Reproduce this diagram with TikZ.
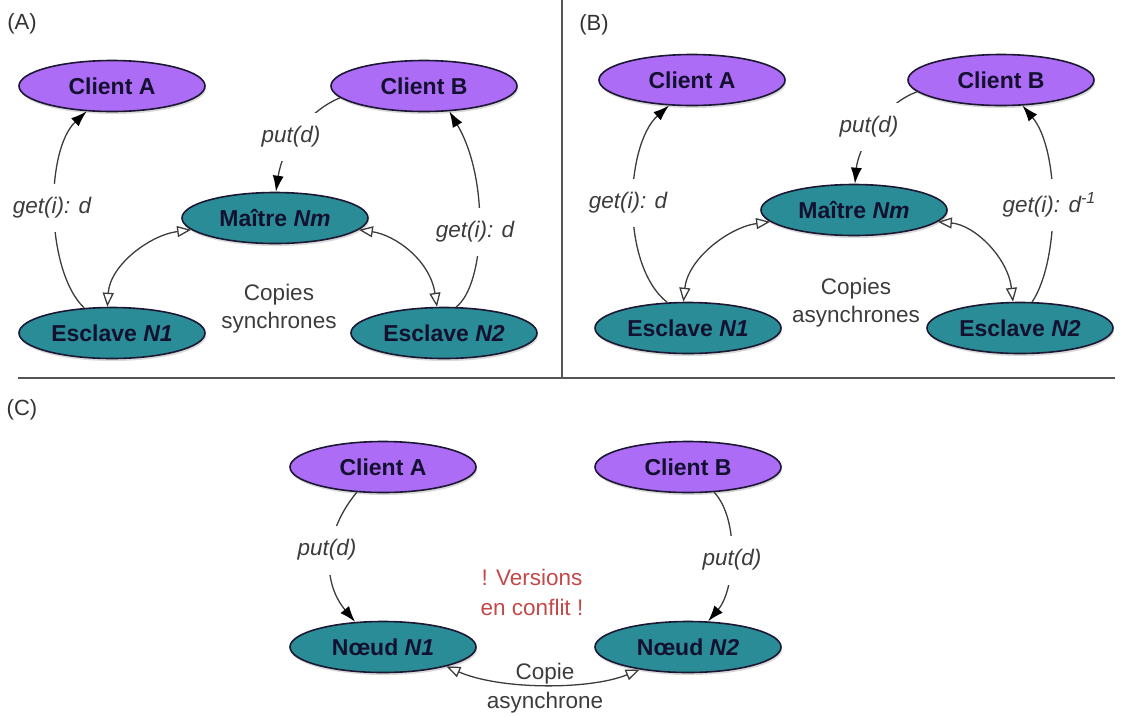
\documentclass[tikz,border=0pt]{standalone}
\usepackage{fontspec}
\setmainfont{Liberation Sans}
\usetikzlibrary{shapes.geometric,arrows.meta,shadows}
\definecolor{cpurple}{RGB}{172,108,245}
\definecolor{cteal}{RGB}{42,140,150}
\definecolor{cedge}{RGB}{28,24,52}
\definecolor{ctext}{RGB}{20,16,48}
\definecolor{clabel}{RGB}{60,60,60}
\definecolor{cred}{RGB}{196,72,72}
\definecolor{crule}{RGB}{85,85,85}
\begin{document}
\begin{tikzpicture}[x=1pt,y=-1pt,
  ell/.style={ellipse, draw=cedge, line width=1.6pt, minimum width=186pt, minimum height=51pt, inner sep=0pt,
    font=\fontsize{23}{26}\selectfont\bfseries, text=ctext,
    drop shadow={opacity=0.3, shadow xshift=1pt, shadow yshift=-2.5pt}},
  client/.style={ell, fill=cpurple},
  server/.style={ell, fill=cteal},
  lbl/.style={font=\fontsize{22.5}{26}\selectfont\itshape, text=clabel, fill=white, inner xsep=3pt, inner ysep=14pt},
  txt/.style={font=\fontsize{22.5}{28}\selectfont, text=clabel, align=center},
  panel/.style={font=\fontsize{22}{26}\selectfont, text=black!80},
  conn/.style={draw=clabel, line width=1.3pt},
  get/.style={conn, -{Latex[length=16pt,width=11pt,color=black]}},
  sync/.style={conn, {Triangle[open,length=14pt,width=11pt,fill=white]}-{Triangle[open,length=14pt,width=11pt,fill=white]}},
  divider/.style={draw=crule, line width=1.5pt}
]
\useasboundingbox (0,0) rectangle (1126,716);

% dividers
\draw[divider] (562,0) -- (562,378);
\draw[divider] (18,378) -- (1115,378);

% ---------------- Panel A ----------------
\node[panel] (tA) at (22,24) {(A)};
\node[client] (cAA) at (112,86) {Client A};
\node[client] (cBA) at (424,86) {Client B};
\node[server] (MA) at (275,218) {Maître \textit{Nm}};
\node[server] (N1A) at (112,333) {Esclave \textit{N1}};
\node[server] (N2A) at (444,333) {Esclave \textit{N2}};

\draw[get] (N1A.138) .. controls (45,270) and (45,150) .. (cAA.225);
\draw[get] (N2A.65) .. controls (485,285) and (490,180) .. (cBA.-45);
\draw[get] (cBA.188) .. controls (305,112) and (282,150) .. (MA.88);
\draw[sync] (MA.188) .. controls (150,235) and (110,265) .. (N1A.100);
\draw[sync] (MA.-8) .. controls (395,235) and (430,260) .. (N2A.105);

\node[lbl] (gA1) at (52,208) {get(i): d};
\node[lbl] (gA2) at (475,232) {get(i): d};
\node[lbl] (pA) at (291,137) {put(d)};
\node[txt] (sA) at (279,309) {Copies\\synchrones};

% ---------------- Panel B ----------------
\node[panel] (tB) at (594,25) {(B)};
\node[client] (cAB) at (692,80) {Client A};
\node[client] (cBB) at (1001,80) {Client B};
\node[server] (MB) at (854,210) {Maître \textit{Nm}};
\node[server] (N1B) at (688,328) {Esclave \textit{N1}};
\node[server] (N2B) at (1020,328) {Esclave \textit{N2}};

\draw[get] (N1B.129) .. controls (620,265) and (625,145) .. (cAB.228);
\draw[get] (N2B.65) .. controls (1060,260) and (1060,150) .. (cBB.-50);
\draw[get] (cBB.188) .. controls (880,105) and (858,150) .. (MB.88);
\draw[sync] (MB.188) .. controls (730,227) and (688,258) .. (N1B.100);
\draw[sync] (MB.-8) .. controls (975,225) and (1008,258) .. (N2B.105);

\node[lbl] (gB1) at (628,203) {get(i): d};
\node[lbl] (gB2) at (1049,205) {get(i): d\raisebox{9pt}{\fontsize{16}{18}\selectfont -1}};
\node[lbl] (pB) at (869,127) {put(d)};
\node[txt] (sB) at (856,303) {Copies\\asynchrones};

% ---------------- Panel C ----------------
\node[panel] (tC) at (22,410) {(C)};
\node[client] (cAC) at (383,467) {Client A};
\node[client] (cBC) at (688,467) {Client B};
\node[server] (N1C) at (383,647) {Nœud \textit{N1}};
\node[server] (N2C) at (688,647) {Nœud \textit{N2}};

\draw[get] (cAC.224) .. controls (325,530) and (320,580) .. (N1C.138);
\draw[get] (cBC.-44) .. controls (740,520) and (735,590) .. (N2C.52);
\draw[sync] (N1C.-17) .. controls (500,690) and (590,690) .. (N2C.205);

\node[lbl] (pC1) at (327,550) {put(d)};
\node[lbl] (pC2) at (732,560) {put(d)};
\node[txt, text=cred, font=\fontsize{22.5}{30}\selectfont] (vC) at (532,592) {! Versions\\en conflit !};
\node[txt, font=\fontsize{22.5}{29}\selectfont] (sC) at (545,688) {Copie\\asynchrone};

\end{tikzpicture}
\end{document}
